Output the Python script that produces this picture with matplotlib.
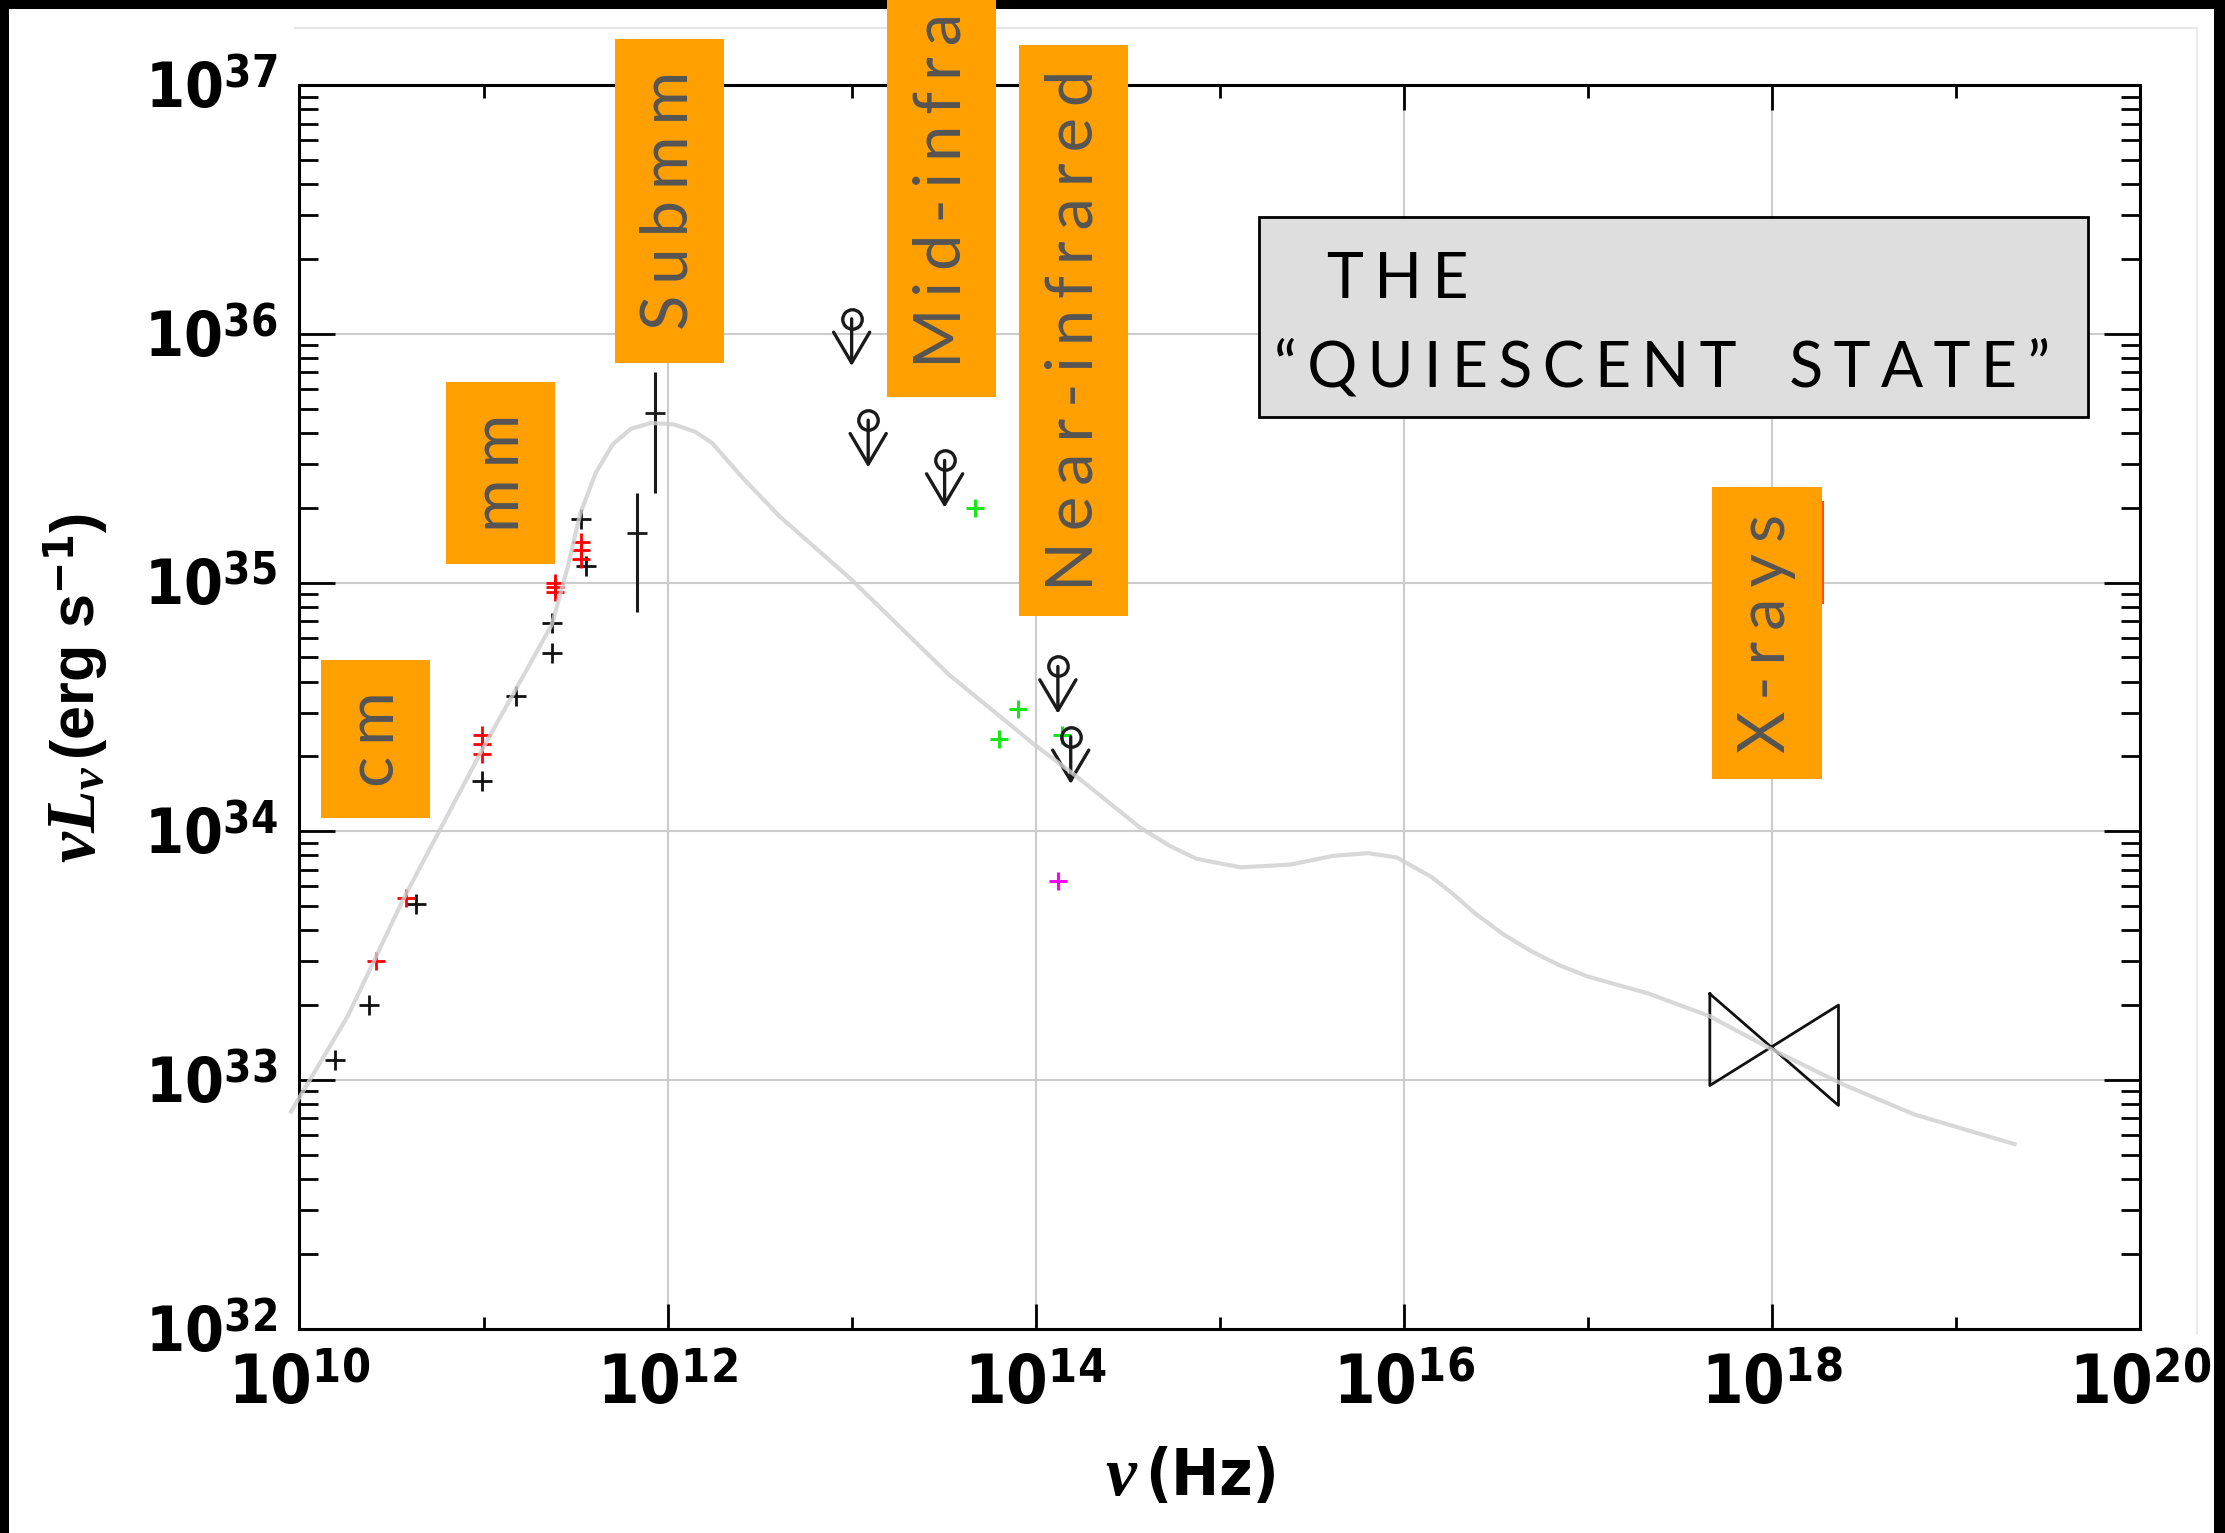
import numpy as np
import matplotlib
matplotlib.use('Agg')
import matplotlib.pyplot as plt
from matplotlib import font_manager
from matplotlib.font_manager import FontProperties
from matplotlib.patches import Rectangle
from matplotlib.lines import Line2D
from matplotlib.ticker import FixedLocator, FuncFormatter, LogLocator, NullFormatter

installed = {f.name for f in font_manager.fontManager.ttflist}
BAND_FONT = 'Lato' if 'Lato' in installed else 'DejaVu Sans'


def narrow_bold_spec():
    """Look for a condensed bold sans face for the tick numbers."""
    for f in font_manager.fontManager.ttflist:
        if f.style != 'normal' or any(k in f.name for k in ('Mono', 'Serif', 'CJK')):
            continue
        wt = f.weight if isinstance(f.weight, int) else (700 if 'bold' in str(f.weight) else 400)
        if wt < 600:
            continue
        if 'Narrow' in f.name or 'Condensed' in f.name:
            return f.name + ':bold'
        if 'condensed' in str(f.stretch):
            spec = f.name + ':bold:stretch=condensed'
            try:
                path = font_manager.findfont(FontProperties(spec), fallback_to_default=False)
                if 'ondensed' in path or 'arrow' in path:
                    return spec
            except Exception:
                pass
    return None


NARROW = narrow_bold_spec()
HAVE_NARROW = NARROW is not None
if not HAVE_NARROW:
    NARROW = 'Liberation Sans:bold'

plt.rcParams['mathtext.fontset'] = 'custom'
plt.rcParams['mathtext.rm'] = NARROW
plt.rcParams['mathtext.bf'] = NARROW
plt.rcParams['mathtext.it'] = 'Liberation Serif:italic:bold'

# ---- data (frequency in Hz, luminosity in erg/s) ----
# radio / mm detections, black
blk_nu = [1.55e10, 2.4e10, 4.3e10, 9.8e10, 1.5e11, 2.35e11, 2.35e11, 3.4e11, 3.6e11]
blk_L = [1.2e33, 2.0e33, 5.1e33, 1.6e34, 3.5e34, 5.2e34, 6.9e34, 1.8e35, 1.17e35]

# radio / mm detections, red
red_nu = [2.6e10, 3.8e10, 9.8e10, 9.8e10, 9.8e10, 2.45e11, 2.45e11, 2.45e11, 3.4e11, 3.4e11, 3.4e11]
red_L = [3.0e33, 5.4e33, 2.45e34, 2.25e34, 2.05e34, 1.0e35, 9.6e34, 9.2e34, 1.45e35, 1.35e35, 1.25e35]

# submm points with error bars
sub_nu = [6.8e11, 8.5e11]
sub_L = [1.58e35, 4.8e35]
sub_lo = [7.6e34, 2.3e35]
sub_hi = [2.3e35, 7.0e35]

# infrared upper limits
lim_nu = [1.0e13, 1.23e13, 3.2e13, 1.32e14, 1.55e14]
lim_L = [1.15e36, 4.5e35, 3.1e35, 4.6e34, 2.4e34]

# near-infrared detections
grn_nu = [4.7e13, 6.3e13, 8.0e13, 1.39e14]
grn_L = [2.0e35, 2.35e34, 3.1e34, 2.45e34]
mag_nu = [1.33e14]
mag_L = [6.3e33]

# X-ray power-law bow tie and flare range
bow_nu = [4.6e17, 2.3e18, 2.3e18, 4.6e17, 4.6e17]
bow_L = [2.22e33, 7.9e32, 2.0e33, 9.5e32, 2.22e33]
flare_nu = [1.9e18, 1.9e18]
flare_L = [2.1e35, 8.3e34]

# model spectrum (log10 nu, log10 nuL_nu)
model_lognu = [9.954, 10.262, 10.562, 10.993, 11.371, 11.456, 11.525, 11.610, 11.702,
               11.802, 11.910, 12.033, 12.149, 12.241, 12.418, 12.611, 12.996, 13.527,
               13.997, 14.213, 14.567, 14.729, 14.875, 15.114, 15.383, 15.614, 15.807,
               15.961, 16.153, 16.269, 16.384, 16.538, 16.692, 16.846, 17.000, 17.332,
               17.663, 17.994, 18.387, 18.771, 19.318]
model_logL = [32.873, 33.256, 33.724, 34.329, 34.831, 35.059, 35.276, 35.442, 35.556,
              35.619, 35.642, 35.636, 35.607, 35.562, 35.413, 35.265, 35.014, 34.631,
              34.346, 34.226, 34.015, 33.941, 33.889, 33.855, 33.866, 33.901, 33.912,
              33.895, 33.815, 33.747, 33.672, 33.587, 33.518, 33.461, 33.416, 33.347,
              33.256, 33.125, 32.982, 32.862, 32.742]

bands = ['cm', 'mm', 'Submm', 'Mid-infrared', 'Near-infrared', 'X-rays']
# band boxes in axes fraction: x0, x1, y0, y1
band_boxes = [(0.0116, 0.0709, 0.411, 0.538),
              (0.0794, 0.1388, 0.615, 0.761),
              (0.1712, 0.2305, 0.777, 1.037),
              (0.3192, 0.3786, 0.749, 1.185),
              (0.3909, 0.4503, 0.573, 1.032),
              (0.7672, 0.8273, 0.442, 0.677)]

title_lines = ['THE', '\u201cQUIESCENT STATE\u201d']

GAP = '\u2006'  # six-per-em space used as letter spacing


def spaced(s):
    return ' '.join(GAP.join(word) for word in s.split(' ')).replace(' ', GAP + '  ' + GAP)


# ---- figure ----
fig = plt.figure(figsize=(22.25, 15.33), dpi=100, facecolor='white')
ax = fig.add_axes([0.1346, 0.1333, 0.8272, 0.8111])

ax.set_xscale('log')
ax.set_yscale('log')
ax.set_xlim(1e10, 1e20)
ax.set_ylim(1e32, 1e37)

ax.xaxis.set_major_locator(FixedLocator(10.0 ** np.arange(10, 21, 2)))
ax.xaxis.set_minor_locator(FixedLocator(10.0 ** np.arange(11, 20, 2)))
ax.xaxis.set_minor_formatter(NullFormatter())
ax.yaxis.set_major_locator(FixedLocator(10.0 ** np.arange(32, 38)))
ax.yaxis.set_minor_locator(LogLocator(base=10, subs=np.arange(2, 10), numticks=30))
ax.yaxis.set_minor_formatter(NullFormatter())
pow_fmt = FuncFormatter(lambda v, p: r'$10^{%d}$' % round(np.log10(v)))
ax.xaxis.set_major_formatter(pow_fmt)
ax.yaxis.set_major_formatter(pow_fmt)

ax.tick_params(which='both', direction='in', top=True, right=True, width=2, color='black')
ax.tick_params(axis='x', which='major', length=18, pad=17, labelsize=48 if HAVE_NARROW else 46)
ax.tick_params(axis='x', which='minor', length=9)
ax.tick_params(axis='y', which='major', length=26, pad=16, labelsize=45)
ax.tick_params(axis='y', which='minor', length=14)
for s in ax.spines.values():
    s.set_linewidth(2.2)

ax.grid(True, which='major', color='#cccccc', lw=1.5, zorder=0)
ax.set_axisbelow(True)

# data points
ax.plot(blk_nu, blk_L, '+', color='#111111', ms=14, mew=2, zorder=3)
ax.plot(red_nu, red_L, '+', color='#ff0000', ms=13, mew=2, zorder=3)
ax.errorbar(sub_nu, sub_L,
            yerr=[np.subtract(sub_L, sub_lo), np.subtract(sub_hi, sub_L)],
            fmt='_', color='#1a1a1a', ms=14, mew=2, elinewidth=2.2, capsize=0, zorder=3)
ax.plot(grn_nu, grn_L, '+', color='#19e619', ms=13, mew=2.2, zorder=3)
ax.plot(mag_nu, mag_L, '+', color='#ff00ff', ms=13, mew=2.2, zorder=3)

# upper limits: open circle with arrow pointing down
ax.plot(lim_nu, lim_L, 'o', mfc='none', mec='#1a1a1a', ms=14, mew=2.4, zorder=3)
for nu, L in zip(lim_nu, lim_L):
    ax.annotate('', xy=(nu, L), xytext=(0, -34), textcoords='offset points',
                arrowprops=dict(arrowstyle='<-,head_length=2.2,head_width=1.3',
                                color='#1a1a1a', lw=2.4, shrinkA=0, shrinkB=0),
                zorder=3)

ax.plot(bow_nu, bow_L, '-', color='#111111', lw=2, zorder=3)
ax.plot(flare_nu, flare_L, '-', color='#ff5010', lw=1.5, marker=0, ms=8, mew=1.5, zorder=3)

# model curve on top, slightly see-through
ax.plot(10.0 ** np.array(model_lognu), 10.0 ** np.array(model_logL), '-',
        color='#cfcfcf', lw=3, alpha=0.8, zorder=4, clip_on=False,
        solid_joinstyle='round')

# band labels
for name, (x0, x1, y0, y1) in zip(bands, band_boxes):
    ax.add_patch(Rectangle((x0, y0), x1 - x0, y1 - y0, transform=ax.transAxes,
                           facecolor='#ffa000', edgecolor='none', zorder=6, clip_on=False))
    ax.text((x0 + x1) / 2, (y0 + y1) / 2, spaced(name), transform=ax.transAxes,
            rotation=90, ha='center', va='center', fontsize=47, color='#555555',
            family=[BAND_FONT, 'DejaVu Sans'], zorder=7, clip_on=False)

# title box
ax.add_patch(Rectangle((0.5212, 0.7329), 0.4503, 0.1609, transform=ax.transAxes,
                       facecolor='#dedede', edgecolor='black', lw=2, zorder=6))
ax.text(0.5582, 0.8288, spaced(title_lines[0]), transform=ax.transAxes,
        ha='left', va='baseline', fontsize=45, family=[BAND_FONT, 'DejaVu Sans'],
        color='black', zorder=7)
ax.text(0.5297, 0.7580, spaced(title_lines[1]), transform=ax.transAxes,
        ha='left', va='baseline', fontsize=45, family=[BAND_FONT, 'DejaVu Sans'],
        color='black', zorder=7)

# axis titles
fig.text(0.0425, 0.5005, r'$\nu L_\nu$', rotation=90, rotation_mode='anchor',
         ha='right', va='baseline', fontsize=50)
fig.text(0.0425, 0.5040, r'(erg s$^{-1}$)', rotation=90, rotation_mode='anchor',
         ha='left', va='baseline', fontsize=44, weight='bold', family='Liberation Sans')
hz_font = FontProperties(NARROW)
hz_font.set_size(46)
fig.text(0.5115, 0.025, r'$\nu$', ha='right', va='baseline', fontsize=50)
fig.text(0.5145, 0.025, '(Hz)', ha='left', va='baseline', fontproperties=hz_font)

# frame around the picture
for rect in [(0, 1 - 9 / 1533, 1, 9 / 1533), (0, 0, 9 / 2225, 1), (2214 / 2225, 0, 11 / 2225, 1)]:
    fig.add_artist(Rectangle(rect[:2], rect[2], rect[3], transform=fig.transFigure,
                             facecolor='black', edgecolor='none', zorder=-1))
fig.add_artist(Line2D([295 / 2225, 2197 / 2225], [1 - 28 / 1533, 1 - 28 / 1533],
                      transform=fig.transFigure, color='#e6e6e6', lw=1.5, zorder=-1))
fig.add_artist(Line2D([2197 / 2225, 2197 / 2225], [1 - 28 / 1533, 1 - 1334 / 1533],
                      transform=fig.transFigure, color='#ececec', lw=1.5, zorder=-1))

fig.savefig('out.png', dpi=100, facecolor='white')
